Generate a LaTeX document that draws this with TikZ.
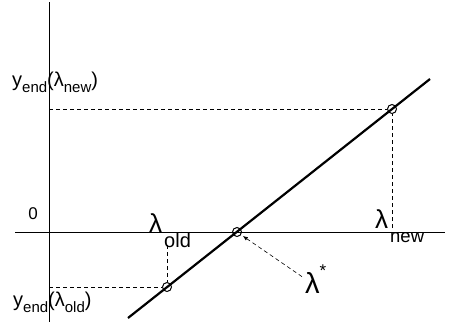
\documentclass[tikz,border=0pt]{standalone}
\usepackage{fontspec}
\setmainfont{Liberation Sans}
\usetikzlibrary{arrows.meta,positioning}
\newcommand{\baja}[2][6pt]{\raisebox{-#1}{\fontsize{15}{18}\selectfont #2}}
\newcommand{\lamsub}[2]{{\fontsize{26}{30}\selectfont λ}\hspace{2pt}\raisebox{-#1}{#2}}

\begin{document}
\begin{tikzpicture}[x=1pt, y=-1pt,
            eje/.style={line width=0.8pt},
            guia/.style={line width=0.6pt, dash pattern=on 4pt off 3pt},
            recta/.style={line width=2.2pt},
            punto/.style={circle, draw, line width=1pt, minimum size=9pt, inner sep=0pt},
            etiqueta/.style={font=\fontsize{20}{24}\selectfont, inner sep=0pt}]

            \useasboundingbox (0,0) rectangle (449,322);

            % Ejes
            \coordinate (xizq) at (15,232);
            \coordinate (xder) at (445,232);
            \coordinate (yarr) at (49,2);
            \coordinate (yaba) at (49,322);
            \draw[eje] (xizq) -- (xder);
            \draw[eje] (yarr) -- (yaba);

            % Recta
            \coordinate (rini) at (128,318);
            \coordinate (rfin) at (430,79);
            \draw[recta] (rini) -- (rfin);

            % Puntos
            \node[punto] (pold) at (167,287) {};
            \node[punto] (pstar) at (237,232) {};
            \node[punto] (pnew) at (392,109) {};

            % Proyecciones
            \coordinate (yold) at (49,287);
            \coordinate (ynew) at (49,109);
            \coordinate (xold) at (167,245);
            \coordinate (xnew) at (392,228);
            \draw[guia] (yold) -- (pold);
            \draw[guia] (xold) -- (pold);
            \draw[guia] (ynew) -- (pnew);
            \draw[guia] (xnew) -- (pnew);

            % Etiquetas
            \node[etiqueta, anchor=base west] (ynewlab) at (12,86) {y\baja{end}(λ\baja{new})};
            \node[etiqueta, anchor=base west] (yoldlab) at (13,306) {y\baja{end}(λ\baja{old})};
            \node[etiqueta, anchor=base, font=\fontsize{17}{20}\selectfont] (cero) at (33,219) {0};
            \node[etiqueta, anchor=base west] (lold) at (149,232) {\lamsub{15pt}{old}};
            \node[etiqueta, anchor=base west, font=\fontsize{18.5}{22}\selectfont] (lnew) at (375,228) {\lamsub{14pt}{new}};
            \node[etiqueta, anchor=base west, font=\fontsize{17}{20}\selectfont] (lstar) at (305,293) {{\fontsize{29}{32}\selectfont λ}\raisebox{17pt}{*}};

            % Flecha
            \draw[guia, -{Latex[length=5pt,width=4pt]}, shorten >=2pt] ([xshift=-3pt,yshift=2pt]lstar.west) -- (pstar);

        \end{tikzpicture}
\end{document}
